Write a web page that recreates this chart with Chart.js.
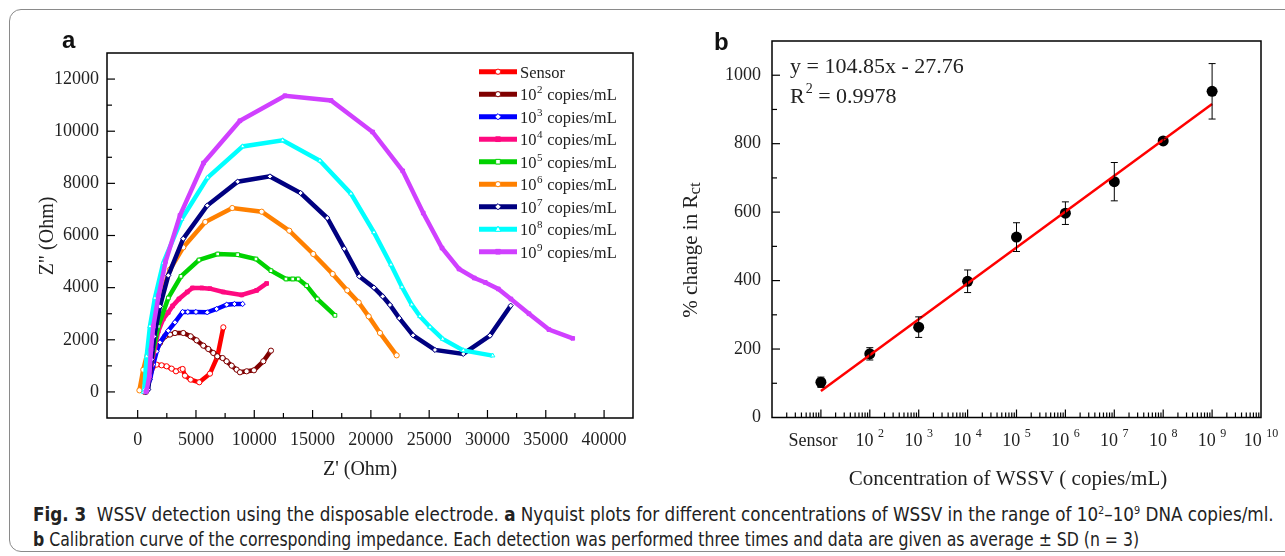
<!DOCTYPE html>
<html>
<head>
<meta charset="utf-8">
<script src="https://cdn.jsdelivr.net/npm/chart.js@4.4.1/dist/chart.umd.min.js"></script>
<style>
html, body { margin: 0; padding: 0; background: #fff; width: 1285px; height: 556px; overflow: hidden; }
#frame { position: absolute; left: 9px; top: 9px; width: 1310px; height: 543px; border: 1px solid #8a8a8a; border-radius: 12px; box-sizing: border-box; }
#wa { position: absolute; left: 0; top: 0; }
#wb { position: absolute; left: 660px; top: 0; }
.cap { position: absolute; left: 33px; white-space: nowrap; font-family: "Liberation Sans Narrow", "DejaVu Sans Condensed", sans-serif; font-size: 19px; color: #222; transform-origin: 0 0; }
.cap b { font-weight: bold; }
</style>
</head>
<body>
<div id="frame"></div>
<div id="wa"><canvas id="ca" width="660" height="490"></canvas></div>
<div id="wb"><canvas id="cb" width="625" height="490"></canvas></div>
<div class="cap" id="cap1" style="top:503px"><b>Fig. 3</b>&nbsp; WSSV detection using the disposable electrode. <b>a</b> Nyquist plots for different concentrations of WSSV in the range of 10<sup style="font-size:11px">2</sup>–10<sup style="font-size:11px">9</sup> DNA copies/ml.</div>
<div class="cap" id="cap2" style="top:528px"><b>b</b> Calibration curve of the corresponding impedance. Each detection was performed three times and data are given as average ± SD (n = 3)</div>

<script>
// ---- panel a: Nyquist plots, [Z', Z''] in Ohm ----
const zSensor = [[600,0],[700,200],[1055,600],[1340,980],[1626,1047],[2055,1021],[2483,983],[2912,893],[3284,791],[3685,855],[3856,880],[4056,625],[4542,472],[5285,370],[6200,702],[6829,1341],[7347,2478]];
const z1e2 = [[700,0],[772,90],[912,470],[1197,980],[1483,1494],[1912,1877],[2341,2133],[2770,2200],[3199,2260],[3914,2260],[4543,2133],[5057,1979],[5629,1775],[6058,1647],[6486,1494],[6829,1366],[7287,1300],[7630,1174],[8059,1008],[8488,855],[8774,753],[9345,791],[9974,829],[10775,1174],[11432,1583]];
const z1e3 = [[700,0],[769,90],[1055,470],[1340,1050],[1629,1557],[1912,1902],[2624,2350],[3199,2670],[3859,3067],[4300,3067],[5000,3067],[5969,3052],[6775,3182],[7633,3347],[8300,3374],[9005,3374]];
const z1e4 = [[600,0],[911,330],[1197,1100],[1483,1725],[1767,2323],[2195,2800],[2624,3050],[3000,3300],[3542,3565],[4254,3834],[4700,3987],[5500,3987],[6200,3961],[7341,3834],[8919,3720],[10205,3896],[11063,4160]];
const z1e5 = [[650,0],[780,215],[1100,1000],[1340,1620],[1770,2515],[2627,3604],[3713,4432],[5257,5061],[6861,5291],[8576,5264],[10146,5099],[11432,4651],[12718,4332],[13300,4332],[13775,4332],[14493,4075],[15402,3566],[16920,2937]];
const z1e6 = [[150,60],[480,850],[1055,1880],[1700,3300],[2770,4690],[3911,5544],[5797,6520],[8113,7054],[10634,6913],[13002,6184],[15059,5291],[16723,4524],[17975,3895],[18952,3435],[19810,2898],[20780,2262],[22212,1403]];
const z1e7 = [[700,0],[900,90],[1200,1240],[1420,2130],[1910,3280],[2627,4470],[3911,5877],[5969,7150],[8576,8063],[11346,8267],[13979,7630],[16260,6671],[17718,5494],[19004,4432],[20265,3999],[21011,3665],[21637,3336],[22437,2830],[23620,2171],[25497,1610],[27924,1457],[30213,2159],[31988,3309]];
const z1e8 = [[500,0],[570,90],[770,1360],[1055,2515],[1480,3600],[2195,4946],[3773,6633],[6000,8220],[9005,9417],[12435,9648],[15634,8868],[18293,7603],[20265,6120],[21723,4881],[22666,4025],[23500,3350],[24210,2900],[25070,2490],[26157,2032],[27924,1595],[30445,1392]];
const z1e9 = [[700,0],[772,60],[1000,600],[1140,1620],[1340,2515],[1800,3700],[2401,5007],[3628,6770],[5650,8780],[8770,10400],[12630,11360],[16580,11180],[20150,9970],[22730,8480],[24490,6860],[26100,5520],[27560,4716],[28870,4370],[29810,4200],[30930,3950],[32010,3566],[33560,3000],[35270,2390],[37310,2055]];

const seriesA = [zSensor, z1e2, z1e3, z1e4, z1e5, z1e6, z1e7, z1e8, z1e9];
const legendExp = [null, 2, 3, 4, 5, 6, 7, 8, 9];
const lineColors = ['#ff0000', '#800000', '#0000ff', '#ff0a80', '#00d200', '#ff8000', '#000080', '#00ffff', '#d040ff'];
const markerStyles = ['circle', 'circle', 'rectRot', 'rect', 'rect', 'circle', 'rectRot', 'triangle', 'rect'];
const markerFilled = [false, false, false, true, false, false, false, false, true];

const xTicksA = [0,2500,5000,7500,10000,12500,15000,17500,20000,22500,25000,27500,30000,32500,35000,37500,40000];
const yTicksA = [0,1000,2000,3000,4000,5000,6000,7000,8000,9000,10000,11000,12000];

// ---- panel b: calibration ----
const concB = [1e1, 1e2, 1e3, 1e4, 1e5, 1e6, 1e7, 1e8, 1e9];
const rctB = [103, 186, 264, 398, 527, 597, 689, 808, 953];
const sdB = [15, 18, 30, 33, 42, 33, 56, 8, 81];
const fitX = [1e1, 1e9];
const fitY = [77.1, 915.9];
const xLabelExpB = [1, 2, 3, 4, 5, 6, 7, 8, 9, 10];
const yTicksB = [0,100,200,300,400,500,600,700,800,900,1000];

Chart.defaults.font.family = '"Liberation Serif", "Times New Roman", serif';
Chart.defaults.color = '#222';

function drawMarker(ctx, style, x, y, r) {
    ctx.beginPath();
    if (style === 'circle') ctx.arc(x, y, r, 0, Math.PI * 2);
    else if (style === 'rect') ctx.rect(x - r * 0.9, y - r * 0.9, r * 1.8, r * 1.8);
    else if (style === 'rectRot') { ctx.moveTo(x, y - r * 1.2); ctx.lineTo(x + r * 1.2, y); ctx.lineTo(x, y + r * 1.2); ctx.lineTo(x - r * 1.2, y); ctx.closePath(); }
    else { ctx.moveTo(x, y - r * 1.2); ctx.lineTo(x + r * 1.1, y + r * 0.8); ctx.lineTo(x - r * 1.1, y + r * 0.8); ctx.closePath(); }
    ctx.fill(); ctx.stroke();
}

// frame + inward tick marks
function frameTicks(isMajorX, isMajorY) {
    return {
        id: 'frameTicks',
        afterDraw(chart) {
            const { ctx, chartArea: a } = chart;
            const xs = chart.scales.x, ys = chart.scales.y;
            ctx.save();
            ctx.strokeStyle = '#000';
            ctx.lineWidth = 1.5;
            ctx.strokeRect(a.left, a.top, a.right - a.left, a.bottom - a.top);
            ctx.lineWidth = 1.2;
            xs.ticks.forEach(t => {
                const px = xs.getPixelForValue(t.value);
                if (px <= a.left + 1 || px >= a.right - 1) return;
                const len = isMajorX(t.value) ? 8 : 5;
                ctx.beginPath(); ctx.moveTo(px, a.bottom); ctx.lineTo(px, a.bottom - len); ctx.stroke();
            });
            ys.ticks.forEach(t => {
                const py = ys.getPixelForValue(t.value);
                if (py <= a.top + 1 || py >= a.bottom - 1) return;
                const len = isMajorY(t.value) ? 8 : 5;
                ctx.beginPath(); ctx.moveTo(a.left, py); ctx.lineTo(a.left + len, py); ctx.stroke();
            });
            ctx.restore();
        }
    };
}

// legend, axis titles and panel letter for a
const decorA = {
    id: 'decorA',
    afterDraw(chart) {
        const ctx = chart.ctx;
        ctx.save();
        legendExp.forEach((e, i) => {
            const y = 71.7 + i * 22.5;
            ctx.strokeStyle = lineColors[i];
            ctx.lineWidth = 5;
            ctx.beginPath(); ctx.moveTo(479, y); ctx.lineTo(517, y); ctx.stroke();
            ctx.lineWidth = 1;
            ctx.fillStyle = markerFilled[i] ? lineColors[i] : '#fff';
            drawMarker(ctx, markerStyles[i], 498, y, 2.6);
            ctx.fillStyle = '#222';
            ctx.textBaseline = 'alphabetic';
            ctx.textAlign = 'left';
            ctx.font = '16.5px "Liberation Serif"';
            if (e === null) { ctx.fillText('Sensor', 520, y + 6); return; }
            ctx.fillText('10', 520, y + 6);
            let x = 520 + ctx.measureText('10').width;
            ctx.font = '11px "Liberation Serif"';
            ctx.fillText(String(e), x + 0.5, y - 1);
            x += ctx.measureText(String(e)).width + 1;
            ctx.font = '16.5px "Liberation Serif"';
            ctx.fillText(' copies/mL', x, y + 6);
        });
        // axis titles
        ctx.font = '20px "Liberation Serif"';
        ctx.textAlign = 'center';
        ctx.textBaseline = 'middle';
        ctx.fillText("Z' (Ohm)", 360, 470);
        ctx.translate(48, 236);
        ctx.rotate(-Math.PI / 2);
        ctx.fillText('Z" (Ohm)', 0, 0);
        ctx.restore();
        ctx.save();
        ctx.font = 'bold 24px "Liberation Sans", Arial, sans-serif';
        ctx.fillStyle = '#111';
        ctx.textBaseline = 'alphabetic';
        ctx.fillText('a', 62, 48);
        ctx.restore();
    }
};

const chartA = new Chart(document.getElementById('ca'), {
    type: 'scatter',
    data: {
        datasets: seriesA.map((s, i) => ({
            data: s.map(p => ({ x: p[0], y: p[1] })),
            showLine: true,
            borderColor: lineColors[i],
            borderWidth: 4.5,
            tension: 0,
            order: 8 - i,
            pointStyle: markerStyles[i],
            pointRadius: 2.6,
            pointBorderWidth: 1,
            pointBorderColor: lineColors[i],
            pointBackgroundColor: markerFilled[i] ? lineColors[i] : '#fff'
        }))
    },
    options: {
        responsive: false,
        animation: false,
        layout: { padding: { left: 0, top: 53, right: 27, bottom: 0 } },
        plugins: { legend: { display: false }, tooltip: { enabled: false } },
        scales: {
            x: {
                type: 'linear', min: -2630, max: 42480,
                afterBuildTicks: s => { s.ticks = xTicksA.map(v => ({ value: v })); },
                afterFit: s => { s.height = 72; },
                grid: { display: false, drawTicks: false },
                border: { display: false },
                ticks: { autoSkip: false, maxRotation: 0, padding: 11, font: { size: 18 },
                    callback: v => (v % 5000 === 0 ? String(v) : '') }
            },
            y: {
                type: 'linear', min: -1000, max: 13000,
                afterBuildTicks: s => { s.ticks = yTicksA.map(v => ({ value: v })); },
                afterFit: s => { s.width = 107; },
                grid: { display: false, drawTicks: false },
                border: { display: false },
                ticks: { autoSkip: false, padding: 8, font: { size: 18 },
                    callback: v => (v % 2000 === 0 ? String(v) : '') }
            }
        }
    },
    plugins: [frameTicks(v => v % 5000 === 0, v => v % 2000 === 0), decorA]
});

// error bars, x labels with superscripts, titles for b
const decorB = {
    id: 'decorB',
    afterDatasetsDraw(chart) {
        const ctx = chart.ctx;
        const xs = chart.scales.x, ys = chart.scales.y;
        ctx.save();
        ctx.strokeStyle = '#000';
        ctx.lineWidth = 1;
        concB.forEach((c, i) => {
            const px = xs.getPixelForValue(c);
            const top = ys.getPixelForValue(rctB[i] + sdB[i]);
            const bot = ys.getPixelForValue(rctB[i] - sdB[i]);
            ctx.beginPath();
            ctx.moveTo(px, top); ctx.lineTo(px, bot);
            ctx.moveTo(px - 3.5, top); ctx.lineTo(px + 3.5, top);
            ctx.moveTo(px - 3.5, bot); ctx.lineTo(px + 3.5, bot);
            ctx.stroke();
        });
        ctx.restore();
    },
    afterDraw(chart) {
        const ctx = chart.ctx;
        const xs = chart.scales.x;
        ctx.save();
        ctx.fillStyle = '#222';
        ctx.textBaseline = 'alphabetic';
        xLabelExpB.forEach(n => {
            const px = xs.getPixelForValue(Math.pow(10, n));
            ctx.font = '18px "Liberation Serif"';
            if (n === 1) {
                ctx.textAlign = 'center';
                ctx.fillText('Sensor', px - 8, 446);
                return;
            }
            ctx.textAlign = 'left';
            const w10 = ctx.measureText('10 ').width;
            ctx.font = '12px "Liberation Serif"';
            const wn = ctx.measureText(String(n)).width;
            const x0 = px - (w10 + wn) / 2;
            ctx.font = '18px "Liberation Serif"';
            ctx.fillText('10 ', x0, 446);
            ctx.font = '12px "Liberation Serif"';
            ctx.fillText(String(n), x0 + w10, 437);
        });
        // x title
        ctx.font = '21px "Liberation Serif"';
        ctx.textAlign = 'center';
        ctx.textBaseline = 'middle';
        ctx.fillText('Concentration of WSSV ( copies/mL)', 1008 - 660, 479);
        // equation
        ctx.textAlign = 'left';
        ctx.textBaseline = 'alphabetic';
        ctx.font = '22px "Liberation Serif"';
        ctx.fillText('y = 104.85x - 27.76', 790 - 660, 73);
        ctx.fillText('R', 790 - 660, 103);
        let x = 790 - 660 + ctx.measureText('R').width;
        ctx.font = '14px "Liberation Serif"';
        ctx.fillText('2', x + 1, 93);
        x += ctx.measureText('2').width + 1;
        ctx.font = '22px "Liberation Serif"';
        ctx.fillText(' = 0.9978', x, 103);
        // y title, rotated, with subscript
        ctx.translate(691 - 660, 250);
        ctx.rotate(-Math.PI / 2);
        const t1 = '% change in R';
        ctx.font = '21px "Liberation Serif"';
        const w1 = ctx.measureText(t1).width;
        ctx.font = '17px "Liberation Serif"';
        const w2 = ctx.measureText('ct').width;
        const sx = -(w1 + w2) / 2;
        ctx.font = '21px "Liberation Serif"';
        ctx.textBaseline = 'middle';
        ctx.fillText(t1, sx, 0);
        ctx.font = '17px "Liberation Serif"';
        ctx.fillText('ct', sx + w1, 5);
        ctx.restore();
        ctx.save();
        ctx.font = 'bold 24px "Liberation Sans", Arial, sans-serif';
        ctx.fillStyle = '#111';
        ctx.fillText('b', 714 - 660, 50);
        ctx.restore();
    }
};

const xTicksB = [];
for (let n = 0; n <= 9; n++) for (let j = 1; j <= 9; j++) xTicksB.push(j * Math.pow(10, n));
xTicksB.push(1e10);

const chartB = new Chart(document.getElementById('cb'), {
    type: 'scatter',
    data: {
        datasets: [
            { data: fitX.map((x, i) => ({ x, y: fitY[i] })), showLine: true, borderColor: '#ff0000',
              borderWidth: 2.5, pointRadius: 0, order: 0 },
            { data: concB.map((x, i) => ({ x, y: rctB[i] })), showLine: false, pointRadius: 5.5,
              pointBackgroundColor: '#000', pointBorderColor: '#000', pointBorderWidth: 0, order: 1 }
        ]
    },
    options: {
        responsive: false,
        animation: false,
        layout: { padding: { left: 0, top: 41, right: 24, bottom: 0 } },
        plugins: { legend: { display: false }, tooltip: { enabled: false } },
        scales: {
            x: {
                type: 'logarithmic', min: 1, max: 1e10,
                afterBuildTicks: s => { s.ticks = xTicksB.map(v => ({ value: v })); },
                afterFit: s => { s.height = 72.5; },
                grid: { display: false, drawTicks: false },
                border: { display: false },
                ticks: { display: false }
            },
            y: {
                type: 'linear', min: 0, max: 1100,
                afterBuildTicks: s => { s.ticks = yTicksB.map(v => ({ value: v })); },
                afterFit: s => { s.width = 112; },
                grid: { display: false, drawTicks: false },
                border: { display: false },
                ticks: { autoSkip: false, padding: 11, font: { size: 18 },
                    callback: v => (v % 200 === 0 ? String(v) : '') }
            }
        }
    },
    plugins: [frameTicks(v => Math.abs(Math.log10(v) - Math.round(Math.log10(v))) < 1e-9, v => v % 200 === 0), decorB]
});

// squeeze caption lines to the reference widths
[['cap1', 1241], ['cap2', 1106]].forEach(([id, w]) => {
    const el = document.getElementById(id);
    el.style.transform = 'scaleX(' + (w / el.scrollWidth) + ')';
});
</script>
</body>
</html>
